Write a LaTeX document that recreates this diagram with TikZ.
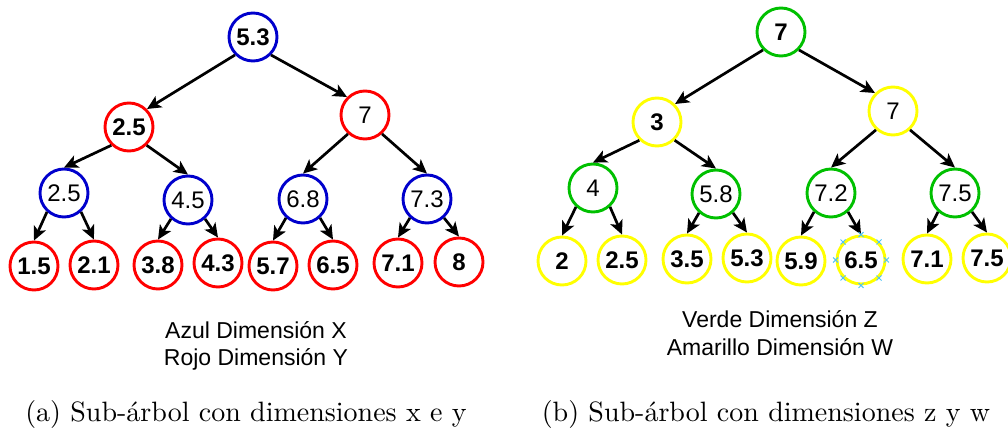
\documentclass[tikz,border=0pt]{standalone}
\usepackage{fontspec}
\newfontfamily\arial{Liberation Sans}
\usetikzlibrary{arrows.meta}

\definecolor{cblue}{HTML}{0000CC}
\definecolor{cred}{HTML}{FF0000}
\definecolor{cgreen}{HTML}{00C000}
\definecolor{cyellow}{HTML}{FFFF00}
\definecolor{cmark}{HTML}{4FC3F7}

\tikzset{
  tnode/.style={circle, line width=2.9pt, minimum size=48pt, inner sep=0pt,
    fill=white, font=\arial\fontsize{24}{26}\selectfont},
  tbold/.style={font=\arial\bfseries\fontsize{24}{26}\selectfont},
  nb/.style={tnode, draw=cblue},
  nr/.style={tnode, draw=cred},
  ng/.style={tnode, draw=cgreen},
  ny/.style={tnode, draw=cyellow},
  link/.style={line width=2.7pt, -{Stealth[length=14pt,width=13pt,inset=3.5pt]}},
  legend/.style={anchor=base, inner sep=0pt, font=\arial\fontsize{23}{27}\selectfont},
  caption/.style={anchor=base, inner sep=0pt, scale=2.8},
  xmark/.style={draw=cmark, line width=1pt}
}

\begin{document}
\begin{tikzpicture}[x=1pt, y=-1pt]
\useasboundingbox[fill=white] (0,0) rectangle (1008,435);

% ---- left tree: dimensions x and y ----
\node[nb, tbold] (L0) at (253,37) {5.3};
\node[nr, tbold] (L1) at (129,127) {2.5};
\node[nr] (L2) at (365,115) {7};
\node[nb] (L3) at (64,193) {2.5};
\node[nb] (L4) at (188,200) {4.5};
\node[nb] (L5) at (303,199) {6.8};
\node[nb] (L6) at (427,199) {7.3};
\node[nr, tbold] (L7) at (34,266) {1.5};
\node[nr, tbold] (L8) at (94,265) {2.1};
\node[nr, tbold] (L9) at (158,265) {3.8};
\node[nr, tbold] (L10) at (218,263) {4.3};
\node[nr, tbold] (L11) at (273,266) {5.7};
\node[nr, tbold] (L12) at (333,265) {6.5};
\node[nr, tbold] (L13) at (398,263) {7.1};
\node[nr, tbold] (L14) at (459,262) {8};

\draw[link] (L0.225) -- (L1.45);
\draw[link] (L0.315) -- (L2.135);
\draw[link] (L1.226) -- (L3.north);
\draw[link] (L1.314) -- (L4.north);
\draw[link] (L2.228) -- (L5.north);
\draw[link] (L2.312) -- (L6.north);
\draw[link] (L3.228) -- (L7.north);
\draw[link] (L3.312) -- (L8.north);
\draw[link] (L4.228) -- (L9.north);
\draw[link] (L4.312) -- (L10.north);
\draw[link] (L5.228) -- (L11.north);
\draw[link] (L5.312) -- (L12.north);
\draw[link] (L6.228) -- (L13.north);
\draw[link] (L6.312) -- (L14.north);

% ---- right tree: dimensions z and w ----
\node[ng, tbold] (R0) at (781,32) {7};
\node[ny, tbold] (R1) at (657,122) {3};
\node[ny] (R2) at (893,111) {7};
\node[ng] (R3) at (593,188) {4};
\node[ng] (R4) at (716,194) {5.8};
\node[ng] (R5) at (831,193) {7.2};
\node[ng] (R6) at (955,193) {7.5};
\node[ny, tbold] (R7) at (562,261) {2};
\node[ny, tbold] (R8) at (622,260) {2.5};
\node[ny, tbold] (R9) at (687,259) {3.5};
\node[ny, tbold] (R10) at (747,258) {5.3};
\node[ny, tbold] (R11) at (801,261) {5.9};
\node[ny, tbold] (R12) at (861,260) {6.5};
\node[ny, tbold] (R13) at (927,259) {7.1};
\node[ny, tbold] (R14) at (987,258) {7.5};

\draw[link] (R0.225) -- (R1.45);
\draw[link] (R0.315) -- (R2.135);
\draw[link] (R1.226) -- (R3.north);
\draw[link] (R1.314) -- (R4.north);
\draw[link] (R2.228) -- (R5.north);
\draw[link] (R2.312) -- (R6.north);
\draw[link] (R3.228) -- (R7.north);
\draw[link] (R3.312) -- (R8.north);
\draw[link] (R4.228) -- (R9.north);
\draw[link] (R4.312) -- (R10.north);
\draw[link] (R5.228) -- (R11.north);
\draw[link] (R5.312) -- (R12.north);
\draw[link] (R6.228) -- (R13.north);
\draw[link] (R6.312) -- (R14.north);

% selection handles around the 6.5 node
\foreach \a in {0,45,...,315} {
  \draw[xmark] ([shift={(-2.5pt,-2.5pt)}]R12.\a) -- ([shift={(2.5pt,2.5pt)}]R12.\a)
               ([shift={(-2.5pt,2.5pt)}]R12.\a) -- ([shift={(2.5pt,-2.5pt)}]R12.\a);
}

% ---- legends ----
\node[legend] (lgA) at (256,338) {Azul Dimensión X};
\node[legend] (lgB) at (256,365) {Rojo Dimensión Y};
\node[legend] (lgC) at (780,327) {Verde Dimensión Z};
\node[legend] (lgD) at (780,355) {Amarillo Dimensión W};

% ---- sub-captions ----
\node[caption] (capA) at (246,421) {\fontsize{10}{12}\selectfont (a) Sub-árbol con dimensiones x e y};
\node[caption] (capB) at (766,421) {\fontsize{10}{12}\selectfont (b) Sub-árbol con dimensiones z y w};
\end{tikzpicture}
\end{document}
